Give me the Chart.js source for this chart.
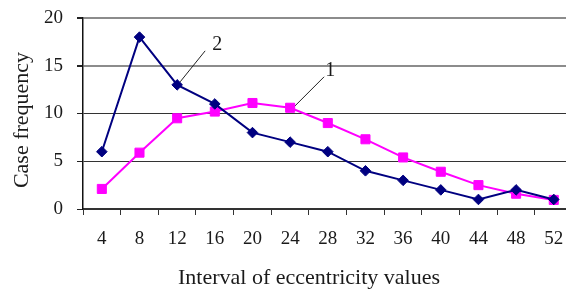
<!DOCTYPE html>
<html>
<head>
<meta charset="utf-8">
<script src="https://cdn.jsdelivr.net/npm/chart.js@4/dist/chart.umd.min.js"></script>
<style>
  html, body { margin: 0; padding: 0; background: #fff; overflow: hidden; }
  #wrap { width: 566px; height: 289px; overflow: hidden; position: relative; }
  canvas { display: block; }
</style>
</head>
<body>
<div id="wrap"><canvas id="c" width="580" height="289"></canvas></div>
<script>
const categories = ['4', '8', '12', '16', '20', '24', '28', '32', '36', '40', '44', '48', '52'];
const series1 = [2.1, 5.9, 9.5, 10.2, 11.1, 10.6, 9.0, 7.3, 5.4, 3.9, 2.5, 1.6, 0.95];
const series2 = [6, 18, 13, 11, 8, 7, 6, 4, 3, 2, 1, 2, 1];
const series1Label = '1';
const series2Label = '2';
const yMin = 0, yMax = 20, yStep = 5;
const xTitle = 'Interval of eccentricity values';
const yTitle = 'Case frequency';

const FONT = '"Liberation Serif", "Times New Roman", serif';
const TEXT = '#1a1a1a';

const annotate = {
  id: 'annotate',
  beforeDatasetsDraw(chart) {
    const ctx = chart.ctx, xs = chart.scales.x, ys = chart.scales.y;
    ctx.save();
    ctx.strokeStyle = '#222';
    ctx.lineWidth = 1;
    // leader for series 2 (anchored at category "12")
    let px = xs.getPixelForValue(2), py = ys.getPixelForValue(series2[2]);
    ctx.beginPath();
    ctx.moveTo(px + 3, py - 3);
    ctx.lineTo(px + 28, py - 34);
    ctx.stroke();
    // leader for series 1 (anchored at category "24")
    px = xs.getPixelForValue(5); py = ys.getPixelForValue(series1[5]);
    ctx.beginPath();
    ctx.moveTo(px + 1, py + 2);
    ctx.lineTo(px + 34, py - 31);
    ctx.stroke();
    ctx.restore();
  },
  afterDraw(chart) {
    const ctx = chart.ctx, xs = chart.scales.x, ys = chart.scales.y;
    ctx.save();
    ctx.fillStyle = TEXT;
    ctx.textAlign = 'center';
    ctx.textBaseline = 'middle';
    ctx.font = '20px ' + FONT;
    let px = xs.getPixelForValue(2), py = ys.getPixelForValue(series2[2]);
    ctx.fillText(series2Label, px + 40, py - 40);
    px = xs.getPixelForValue(5); py = ys.getPixelForValue(series1[5]);
    ctx.fillText(series1Label, px + 40, py - 37);
    // axis titles
    ctx.font = '22px ' + FONT;
    ctx.fillText(xTitle, 309, 278);
    ctx.translate(22, 120);
    ctx.rotate(-Math.PI / 2);
    ctx.fillText(yTitle, 0, 0);
    ctx.restore();
  }
};

new Chart(document.getElementById('c'), {
  type: 'line',
  data: {
    labels: categories,
    datasets: [
      {
        label: series2Label,
        data: series2,
        borderColor: '#000080',
        backgroundColor: '#000080',
        borderWidth: 2,
        pointStyle: 'rectRot',
        pointRadius: 5.3,
        pointBorderWidth: 1,
        tension: 0,
        fill: false
      },
      {
        label: series1Label,
        data: series1,
        borderColor: '#ff00ff',
        backgroundColor: '#ff00ff',
        borderWidth: 2,
        pointStyle: 'rect',
        pointRadius: 6.4,
        pointBorderWidth: 1,
        tension: 0,
        fill: false
      }
    ]
  },
  options: {
    responsive: false,
    animation: false,
    events: [],
    layout: { padding: { left: 0, right: 4.6, top: 18, bottom: 0 } },
    plugins: { legend: { display: false }, tooltip: { enabled: false }, title: { display: false } },
    scales: {
      x: {
        type: 'category',
        offset: true,
        grid: {
          offset: true,
          drawOnChartArea: false,
          drawTicks: true,
          tickLength: 6,
          tickColor: '#333',
          tickWidth: 1
        },
        border: { display: true, color: '#333', width: 1.5 },
        ticks: {
          color: TEXT,
          font: { family: FONT, size: 19 },
          padding: 13,
          maxRotation: 0,
          autoSkip: false
        },
        afterFit(scale) {
          scale.height = 80;
          scale.paddingLeft = 0;
          scale.paddingRight = 0;
        }
      },
      y: {
        min: yMin,
        max: yMax,
        grid: {
          drawOnChartArea: true,
          drawTicks: true,
          tickLength: 6,
          tickColor: '#222',
          color: (c) => (c.tick && c.tick.value >= 15 ? '#8c8c8c' : '#333'),
          lineWidth: (c) => (c.tick && c.tick.value >= 15 ? 2 : 1)
        },
        border: { display: true, color: '#111', width: 1.5 },
        ticks: {
          stepSize: yStep,
          color: TEXT,
          font: { family: FONT, size: 19 },
          padding: 14
        },
        afterFit(scale) {
          scale.width = 83;
          scale.paddingTop = 0;
          scale.paddingBottom = 0;
        }
      }
    }
  },
  plugins: [annotate]
});
</script>
</body>
</html>
